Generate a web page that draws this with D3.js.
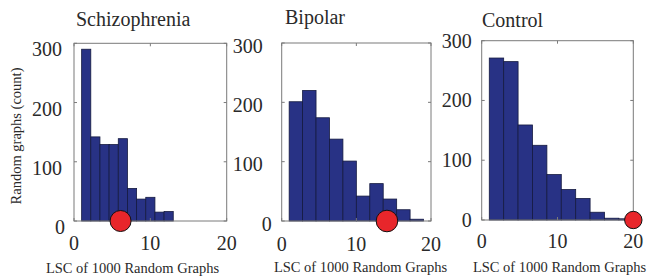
<!DOCTYPE html>
<html>
<head>
<meta charset="utf-8">
<script src="https://cdn.jsdelivr.net/npm/d3@7"></script>
<style>
    html, body { margin: 0; padding: 0; background: #fff; }
    svg { display: block; }
    svg text { font-family: "Liberation Serif", "DejaVu Serif", serif; }
</style>
</head>
<body>
<svg id="chart" width="649" height="276"></svg>
<script>
/**
 * Data.
 */
const groups = ['Schizophrenia', 'Bipolar', 'Control'];

const schizoEdges = [1, 2.2, 3.4, 4.6, 5.8, 7, 8.2, 9.4, 10.6, 11.8, 13],
    schizoCounts = [290, 142, 129, 129, 139, 55, 37, 40, 15, 16],
    schizoObserved = 6.1;

const bipolarEdges = [1, 2.8, 4.6, 6.4, 8.2, 10, 11.8, 13.6, 15.4, 17.2, 19],
    bipolarCounts = [201, 220, 174, 138, 101, 42, 63, 37, 19, 3],
    bipolarObserved = 14.1;

const controlEdges = [1, 2.9, 4.8, 6.7, 8.6, 10.5, 12.4, 14.3, 16.2, 18.1, 20],
    controlCounts = [271, 265, 159, 125, 76, 51, 36, 13, 3, 2],
    controlObserved = 20;

const xTicks = [0, 10, 20],
    yTicks = [0, 100, 200, 300],
    xDomain = [0, 20],
    yDomain = [0, 300];

const xTitle = 'LSC of 1000 Random Graphs',
    yTitle = 'Random graphs (count)';

/**
 * Visual configs, one per panel (the three panels are not quite aligned).
 */
const panels = [
    { left: 74, right: 226.7, top: 43.3, bottom: 221, gap: 12, dy: 13, zeroShift: 3,
      titleX: 76, titleY: 26, labelX: 132.5, labelY: 273, tickY: 29, r: 10.5 },
    { left: 281.7, right: 431, top: 43, bottom: 221, gap: 19, dy: 9.5, zeroShift: 9,
      titleX: 285, titleY: 23.5, labelX: 360.5, labelY: 271.5, tickY: 30, r: 10.8 },
    { left: 481.7, right: 633.3, top: 40.7, bottom: 220, gap: 10, dy: 7, zeroShift: 0,
      titleX: 482, titleY: 27, labelX: 559.5, labelY: 272, tickY: 28, r: 8.7 }
];

const series = [
    { edges: schizoEdges, counts: schizoCounts, observed: schizoObserved },
    { edges: bipolarEdges, counts: bipolarCounts, observed: bipolarObserved },
    { edges: controlEdges, counts: controlCounts, observed: controlObserved }
];

const fontFamily = '"Liberation Serif", "DejaVu Serif", serif',
    barFill = '#283285',
    barStroke = '#151a40',
    boxStroke = '#7a7a7a',
    textColor = '#2a2a2a',
    dotFill = '#e8262b',
    tickLength = 3;

const svg = d3.select('#chart');

groups.forEach((name, i) => {
    const p = panels[i],
        s = series[i];

    const x = d3.scaleLinear().domain(xDomain).range([p.left, p.right]),
        y = d3.scaleLinear().domain(yDomain).range([p.bottom, p.top]);

    const g = svg.append('g').attr('class', 'panel').attr('font-family', fontFamily);

    // Bars
    const bins = s.counts.map((c, k) => ({ x0: s.edges[k], x1: s.edges[k + 1], count: c }));
    g.selectAll('.bar').data(bins).enter().append('rect')
        .attr('class', 'bar')
        .attr('x', d => x(d.x0))
        .attr('y', d => y(d.count))
        .attr('width', d => x(d.x1) - x(d.x0))
        .attr('height', d => y(0) - y(d.count))
        .attr('fill', barFill)
        .attr('stroke', barStroke)
        .attr('stroke-width', 0.8);

    // Box
    g.append('rect')
        .attr('x', p.left)
        .attr('y', p.top)
        .attr('width', p.right - p.left)
        .attr('height', p.bottom - p.top)
        .attr('fill', 'none')
        .attr('stroke', boxStroke)
        .attr('stroke-width', 1);

    // Inward ticks on all four sides
    const ticks = g.append('g').attr('stroke', boxStroke).attr('stroke-width', 1);
    xTicks.forEach(t => {
        ticks.append('line').attr('x1', x(t)).attr('x2', x(t)).attr('y1', p.bottom).attr('y2', p.bottom - tickLength);
        ticks.append('line').attr('x1', x(t)).attr('x2', x(t)).attr('y1', p.top).attr('y2', p.top + tickLength);
    });
    yTicks.forEach(t => {
        ticks.append('line').attr('x1', p.left).attr('x2', p.left + tickLength).attr('y1', y(t)).attr('y2', y(t));
        ticks.append('line').attr('x1', p.right).attr('x2', p.right - tickLength).attr('y1', y(t)).attr('y2', y(t));
    });

    // Tick labels
    g.selectAll('.xt').data(xTicks).enter().append('text')
        .attr('class', 'xt')
        .attr('x', d => x(d))
        .attr('y', p.bottom + p.tickY)
        .attr('text-anchor', 'middle')
        .attr('font-size', 20)
        .attr('fill', textColor)
        .text(d => d);

    g.selectAll('.yt').data(yTicks).enter().append('text')
        .attr('class', 'yt')
        .attr('x', d => p.left - p.gap + (d === 0 ? p.zeroShift : 0))
        .attr('y', d => y(d) + p.dy)
        .attr('text-anchor', 'end')
        .attr('font-size', 20)
        .attr('fill', textColor)
        .text(d => d);

    // Observed value
    g.append('circle')
        .attr('cx', x(s.observed))
        .attr('cy', y(0))
        .attr('r', p.r)
        .attr('fill', dotFill)
        .attr('stroke', '#111')
        .attr('stroke-width', 1);

    // Titles
    g.append('text')
        .attr('x', p.titleX)
        .attr('y', p.titleY)
        .attr('font-size', 20)
        .attr('fill', textColor)
        .text(name);

    g.append('text')
        .attr('x', p.labelX)
        .attr('y', p.labelY)
        .attr('text-anchor', 'middle')
        .attr('font-size', 14.5)
        .attr('fill', textColor)
        .text(xTitle);
});

// Y label only on the first panel
svg.append('text')
    .attr('transform', 'translate(21,136) rotate(-90)')
    .attr('text-anchor', 'middle')
    .attr('font-family', fontFamily)
    .attr('font-size', 14.5)
    .attr('fill', textColor)
    .text(yTitle);
</script>
</body>
</html>
